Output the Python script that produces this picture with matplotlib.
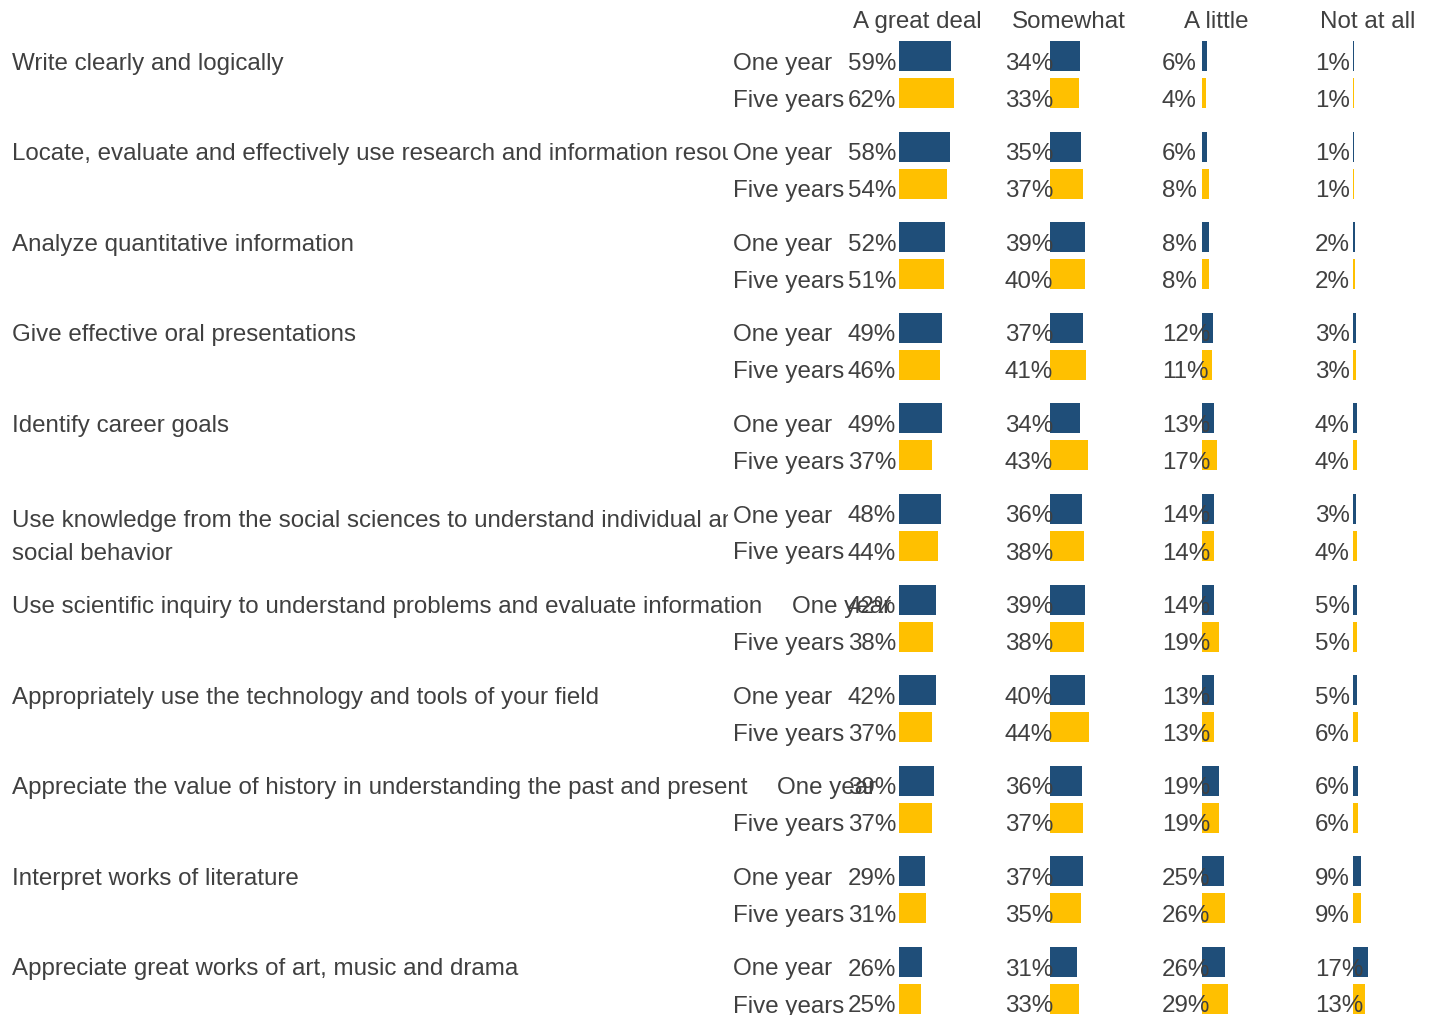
import matplotlib
matplotlib.use("Agg")
import matplotlib.pyplot as plt
from matplotlib.patches import Rectangle

# ---------------- data ----------------
categories = [
    "Write clearly and logically",
    "Locate, evaluate and effectively use research and information resources",
    "Analyze quantitative information",
    "Give effective oral presentations",
    "Identify career goals",
    "Use knowledge from the social sciences to understand individual and\nsocial behavior",
    "Use scientific inquiry to understand problems and evaluate information",
    "Appropriately use the technology and tools of your field",
    "Appreciate the value of history in understanding the past and present",
    "Interpret works of literature",
    "Appreciate great works of art, music and drama",
]
columns = ["A great deal", "Somewhat", "A little", "Not at all"]
row_labels = ["One year", "Five years"]

great_deal_1y = [59, 58, 52, 49, 49, 48, 42, 42, 39, 29, 26]
somewhat_1y   = [34, 35, 39, 37, 34, 36, 39, 40, 36, 37, 31]
a_little_1y   = [6, 6, 8, 12, 13, 14, 14, 13, 19, 25, 26]
not_at_all_1y = [1, 1, 2, 3, 4, 3, 5, 5, 6, 9, 17]

great_deal_5y = [62, 54, 51, 46, 37, 44, 38, 37, 37, 31, 25]
somewhat_5y   = [33, 37, 40, 41, 43, 38, 38, 44, 37, 35, 33]
a_little_5y   = [4, 8, 8, 11, 17, 14, 19, 13, 19, 26, 29]
not_at_all_5y = [1, 1, 2, 3, 4, 4, 5, 6, 6, 9, 13]

series_1y = [great_deal_1y, somewhat_1y, a_little_1y, not_at_all_1y]
series_5y = [great_deal_5y, somewhat_5y, a_little_5y, not_at_all_5y]

# ---------------- layout / style ----------------
W, H = 1433, 1015
NAVY = "#1F4E79"
GOLD = "#FFC000"
TXT = "#404040"
FONT = "Liberation Sans"
FS = 17.4

ROW0 = 69.5      # baseline of first "One year" row (px)
PITCH = 90.6     # px between groups
SUB = 37.0       # px between One year / Five years
BAR_H = 30.0
BAR_OFF = 13.5   # bar centre above baseline
COL_BAR_X = [899, 1050, 1202, 1353]
COL_PCT_X = [848, 1005, 1162, 1315]
HEADER_X = [917, 1069, 1216, 1368]
HEADER_BASE = 28
PX_PER_PCT = 0.885
CAT_X = 12
LABEL_X = 733
CLIP_X = 728
overflow = [False, False, False, False, False, False, True, False, True, False, False]

fig = plt.figure(figsize=(W / 100, H / 100), dpi=100)
ax = fig.add_axes([0, 0, 1, 1])
ax.set_xlim(0, W)
ax.set_ylim(H, 0)
ax.axis("off")

txt_kw = dict(fontsize=FS, color=TXT, family=FONT, va="baseline")

# headers
for hx, name in zip(HEADER_X, columns):
    ax.text(hx, HEADER_BASE, name, ha="center", **txt_kw)

clip_rect = Rectangle((0, 0), CLIP_X, H, transform=ax.transData, visible=False)
ax.add_patch(clip_rect)

fig.canvas.draw()
renderer = fig.canvas.get_renderer()

for i, cat in enumerate(categories):
    base1 = ROW0 + i * PITCH
    base5 = base1 + SUB
    lines = cat.split("\n")
    cat_right = 0
    for k, line in enumerate(lines):
        y = base1 + (5 if len(lines) > 1 else 0) + k * 32
        t = ax.text(CAT_X, y, line, ha="left", **txt_kw)
        if not overflow[i]:
            t.set_clip_on(True)
            t.set_clip_path(clip_rect)
        else:
            bb = t.get_window_extent(renderer)
            cat_right = max(cat_right, bb.x1)
    lab_x = LABEL_X
    if overflow[i]:
        lab_x = max(LABEL_X, cat_right + 30)
    ax.text(lab_x, base1, row_labels[0], ha="left", **txt_kw)
    ax.text(LABEL_X, base5, row_labels[1], ha="left", **txt_kw)

    for c in range(4):
        for base, vals, col in ((base1, series_1y[c], NAVY), (base5, series_5y[c], GOLD)):
            v = vals[i]
            ax.barh(base - BAR_OFF, v * PX_PER_PCT, left=COL_BAR_X[c],
                    height=BAR_H, color=col, linewidth=0)
            ax.text(COL_PCT_X[c], base, f"{v}%", ha="left", zorder=3, **txt_kw)

fig.savefig("out.png", dpi=100, facecolor="white")
